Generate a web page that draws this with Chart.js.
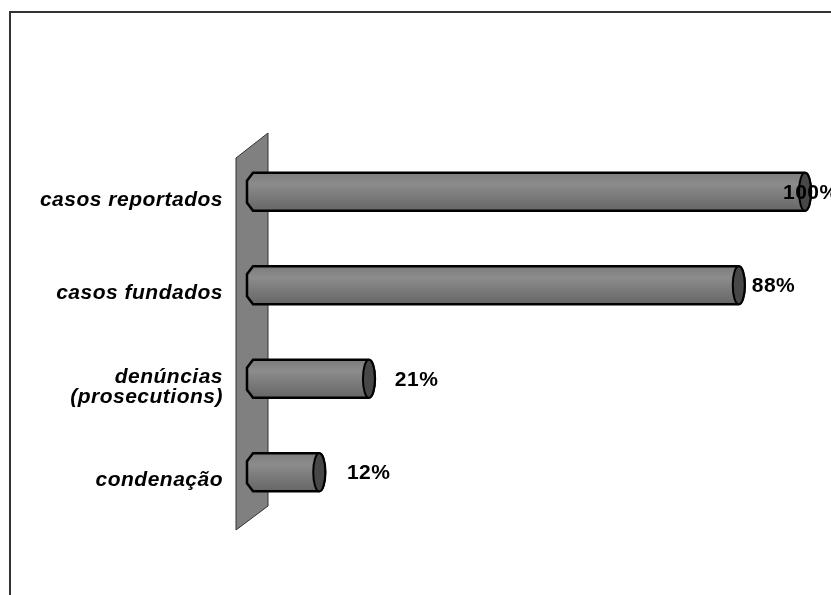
<!DOCTYPE html>
<html>
<head>
<meta charset="utf-8">
<script src="https://cdn.jsdelivr.net/npm/chart.js@4/dist/chart.umd.min.js"></script>
<style>
  body { margin: 0; background: #fff; }
  canvas { display: block; }
</style>
</head>
<body>
<canvas id="chartCases" width="831" height="595"></canvas>
<script>
// Chart data
const categories = [
    "casos reportados",
    "casos fundados",
    ["denúncias", "(prosecutions)"],
    "condenação",
];
const percentages = [100, 88, 21, 12];
const percentLabels = percentages.map(v => v + "%");

const fontFamily = '"Liberation Sans", Arial, sans-serif';

// frame, letter spacing and the grey back wall
const wallPlugin = {
    id: "wall",
    beforeDraw(chart) {
        const ctx = chart.ctx;
        ctx.save();
        ctx.fillStyle = "#fff";
        ctx.fillRect(0, 0, chart.width, chart.height);
        ctx.fillStyle = "#333";
        ctx.fillRect(9, 11, 2, chart.height - 11);
        ctx.fillRect(9, 11, chart.width - 9, 2);
        ctx.restore();
        ctx.letterSpacing = "0.5px";
    },
    beforeDatasetsDraw(chart) {
        const ctx = chart.ctx;
        const ca = chart.chartArea;
        const x0 = chart.scales.x.getPixelForValue(0);
        ctx.save();
        ctx.beginPath();
        ctx.moveTo(x0 - 17, ca.top + 13);
        ctx.lineTo(x0 + 15, ca.top - 12);
        ctx.lineTo(x0 + 15, ca.bottom - 13);
        ctx.lineTo(x0 - 17, ca.bottom + 11);
        ctx.closePath();
        ctx.fillStyle = "#808080";
        ctx.fill();
        ctx.lineWidth = 1;
        ctx.strokeStyle = "#333";
        ctx.stroke();
        ctx.restore();
    },
};

// cylinders drawn over the bar elements, plus value labels
const cylinderPlugin = {
    id: "cylinders",
    afterDatasetsDraw(chart) {
        const ctx = chart.ctx;
        const meta = chart.getDatasetMeta(0);
        meta.data.forEach((bar, i) => {
            const { x, y, base, height } = bar.getProps(["x", "y", "base", "height"], true);
            const top = y - height / 2;
            const bot = y + height / 2;
            const rx = 6;

            ctx.save();
            const grad = ctx.createLinearGradient(0, top, 0, bot);
            grad.addColorStop(0, "#7c7c7c");
            grad.addColorStop(0.3, "#8c8c8c");
            grad.addColorStop(0.55, "#7e7e7e");
            grad.addColorStop(1, "#666666");

            ctx.beginPath();
            ctx.moveTo(x, top);
            ctx.lineTo(base, top);
            ctx.lineTo(base - rx, top + 8);
            ctx.lineTo(base - rx, bot - 8);
            ctx.lineTo(base, bot);
            ctx.lineTo(x, bot);
            ctx.ellipse(x, y, rx, height / 2, 0, Math.PI / 2, -Math.PI / 2, true);
            ctx.closePath();
            ctx.fillStyle = grad;
            ctx.fill();
            ctx.lineWidth = 2.5;
            ctx.strokeStyle = "#000";
            ctx.stroke();

            // end cap
            ctx.beginPath();
            ctx.ellipse(x, y, rx, height / 2, 0, 0, Math.PI * 2);
            ctx.fillStyle = "#474747";
            ctx.fill();
            ctx.lineWidth = 2;
            ctx.stroke();

            // value label
            ctx.font = "bold 21px " + fontFamily;
            ctx.fillStyle = "#000";
            ctx.textBaseline = "middle";
            ctx.textAlign = "left";
            let lx = base + (x - base) * 0.965 + 30;
            lx = Math.min(lx, chart.width - 48);
            ctx.fillText(percentLabels[i], lx, y + 1);
            ctx.restore();
        });
    },
};

const configCases = {
    type: "bar",
    data: {
        labels: categories,
        datasets: [{
            data: percentages,
            backgroundColor: "rgba(0,0,0,0)",
            borderWidth: 0,
            barThickness: 38,
        }, ],
    },
    options: {
        indexAxis: "y",
        responsive: false,
        animation: false,
        devicePixelRatio: 1,
        layout: {
            padding: { left: 10, right: 26, top: 145, bottom: 76 },
        },
        plugins: {
            legend: { display: false },
            tooltip: { enabled: false },
        },
        scales: {
            x: {
                display: false,
                min: 0,
                max: 100,
            },
            y: {
                afterFit(scale) {
                    scale.width = 243;
                },
                grid: { display: false, drawTicks: false },
                border: { display: false },
                ticks: {
                    padding: 30,
                    labelOffset: 8,
                    color: "#000",
                    font: {
                        family: fontFamily,
                        size: 21,
                        style: "italic",
                        weight: "bold",
                        lineHeight: 0.95,
                    },
                },
            },
        },
    },
    plugins: [wallPlugin, cylinderPlugin],
};

var chartCases = new Chart(
    document.getElementById("chartCases"),
    configCases
);
</script>
</body>
</html>
